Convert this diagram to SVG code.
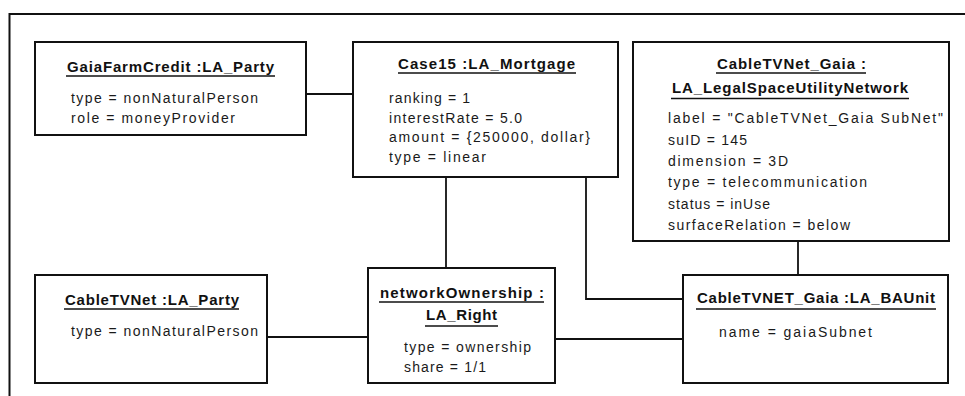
<svg xmlns="http://www.w3.org/2000/svg" width="965" height="396" viewBox="0 0 965 396">
  <style>
    .frame { fill: none; stroke: #111; stroke-width: 2; }
    .box { fill: #fff; stroke: #111; stroke-width: 2; }
    .conn { fill: none; stroke: #111; stroke-width: 1.8; }
    .ul { stroke: #111; stroke-width: 1.6; }
    .title { font-family: "Liberation Sans", Arial, sans-serif; font-size: 15px; font-weight: bold; fill: #111; }
    .attr { font-family: "Liberation Sans", Arial, sans-serif; font-size: 14px; fill: #1a1a1a; }
  </style>
  <rect width="965" height="396" fill="#fff"/>

  <!-- outer frame -->
  <path class="frame" d="M9.5,396 V14 H965"/>

  <!-- connectors -->
  <g id="connectors">
    <line class="conn" x1="306" y1="94" x2="353" y2="94"/>
    <line class="conn" x1="446" y1="177" x2="446" y2="268"/>
    <polyline class="conn" points="586,177 586,299 683,299"/>
    <line class="conn" x1="798" y1="241" x2="798" y2="275"/>
    <line class="conn" x1="267" y1="337" x2="368" y2="337"/>
    <line class="conn" x1="555" y1="339" x2="683" y2="339"/>
  </g>

  <g id="gaiaFarmCredit">
    <rect class="box" x="35" y="42" width="271" height="93"/>
    <text class="title" x="67" y="72" textLength="207" lengthAdjust="spacing">GaiaFarmCredit :LA_Party</text>
    <line class="ul" x1="66" y1="76" x2="275" y2="76"/>
    <text class="attr" x="71" y="103" textLength="187" lengthAdjust="spacing">type = nonNaturalPerson</text>
    <text class="attr" x="71" y="123" textLength="164" lengthAdjust="spacing">role = moneyProvider</text>
  </g>

  <g id="case15">
    <rect class="box" x="353" y="42" width="265" height="135"/>
    <text class="title" x="398" y="69" textLength="177" lengthAdjust="spacing">Case15 :LA_Mortgage</text>
    <line class="ul" x1="398" y1="73" x2="576" y2="73"/>
    <text class="attr" x="389" y="103" textLength="81" lengthAdjust="spacing">ranking = 1</text>
    <text class="attr" x="389" y="123" textLength="133" lengthAdjust="spacing">interestRate = 5.0</text>
    <text class="attr" x="389" y="142" textLength="201" lengthAdjust="spacing">amount = {250000, dollar}</text>
    <text class="attr" x="389" y="162" textLength="97" lengthAdjust="spacing">type = linear</text>
  </g>

  <g id="cableTVNetGaiaNetwork">
    <rect class="box" x="633" y="42" width="316" height="199"/>
    <text class="title" x="717" y="69" textLength="149" lengthAdjust="spacing">CableTVNet_Gaia :</text>
    <line class="ul" x1="716" y1="73" x2="866" y2="73"/>
    <text class="title" x="672" y="93" textLength="236" lengthAdjust="spacing">LA_LegalSpaceUtilityNetwork</text>
    <line class="ul" x1="671" y1="98.5" x2="909" y2="98.5"/>
    <text class="attr" x="668" y="123" textLength="275" lengthAdjust="spacing">label = "CableTVNet_Gaia SubNet"</text>
    <text class="attr" x="668" y="145" textLength="79" lengthAdjust="spacing">suID = 145</text>
    <text class="attr" x="668" y="166" textLength="120" lengthAdjust="spacing">dimension = 3D</text>
    <text class="attr" x="668" y="187" textLength="199" lengthAdjust="spacing">type = telecommunication</text>
    <text class="attr" x="668" y="209" textLength="102" lengthAdjust="spacing">status = inUse</text>
    <text class="attr" x="668" y="230" textLength="182" lengthAdjust="spacing">surfaceRelation = below</text>
  </g>

  <g id="cableTVNetParty">
    <rect class="box" x="35" y="275" width="232" height="108"/>
    <text class="title" x="65" y="305" textLength="174" lengthAdjust="spacing">CableTVNet :LA_Party</text>
    <line class="ul" x1="64" y1="309" x2="239" y2="309"/>
    <text class="attr" x="71" y="336" textLength="187" lengthAdjust="spacing">type = nonNaturalPerson</text>
  </g>

  <g id="networkOwnership">
    <rect class="box" x="368" y="268" width="187" height="115"/>
    <text class="title" x="380" y="298" textLength="164" lengthAdjust="spacing">networkOwnership :</text>
    <line class="ul" x1="379" y1="302" x2="544" y2="302"/>
    <text class="title" x="426" y="320" textLength="71" lengthAdjust="spacing">LA_Right</text>
    <line class="ul" x1="425" y1="326" x2="498" y2="326"/>
    <text class="attr" x="404" y="352" textLength="127" lengthAdjust="spacing">type = ownership</text>
    <text class="attr" x="404" y="372" textLength="82" lengthAdjust="spacing">share = 1/1</text>
  </g>

  <g id="cableTVNetGaiaBAUnit">
    <rect class="box" x="683" y="275" width="265" height="108"/>
    <text class="title" x="697" y="303" textLength="238" lengthAdjust="spacing">CableTVNET_Gaia :LA_BAUnit</text>
    <line class="ul" x1="696" y1="309" x2="936" y2="309"/>
    <text class="attr" x="719" y="337" textLength="153" lengthAdjust="spacing">name = gaiaSubnet</text>
  </g>
</svg>
